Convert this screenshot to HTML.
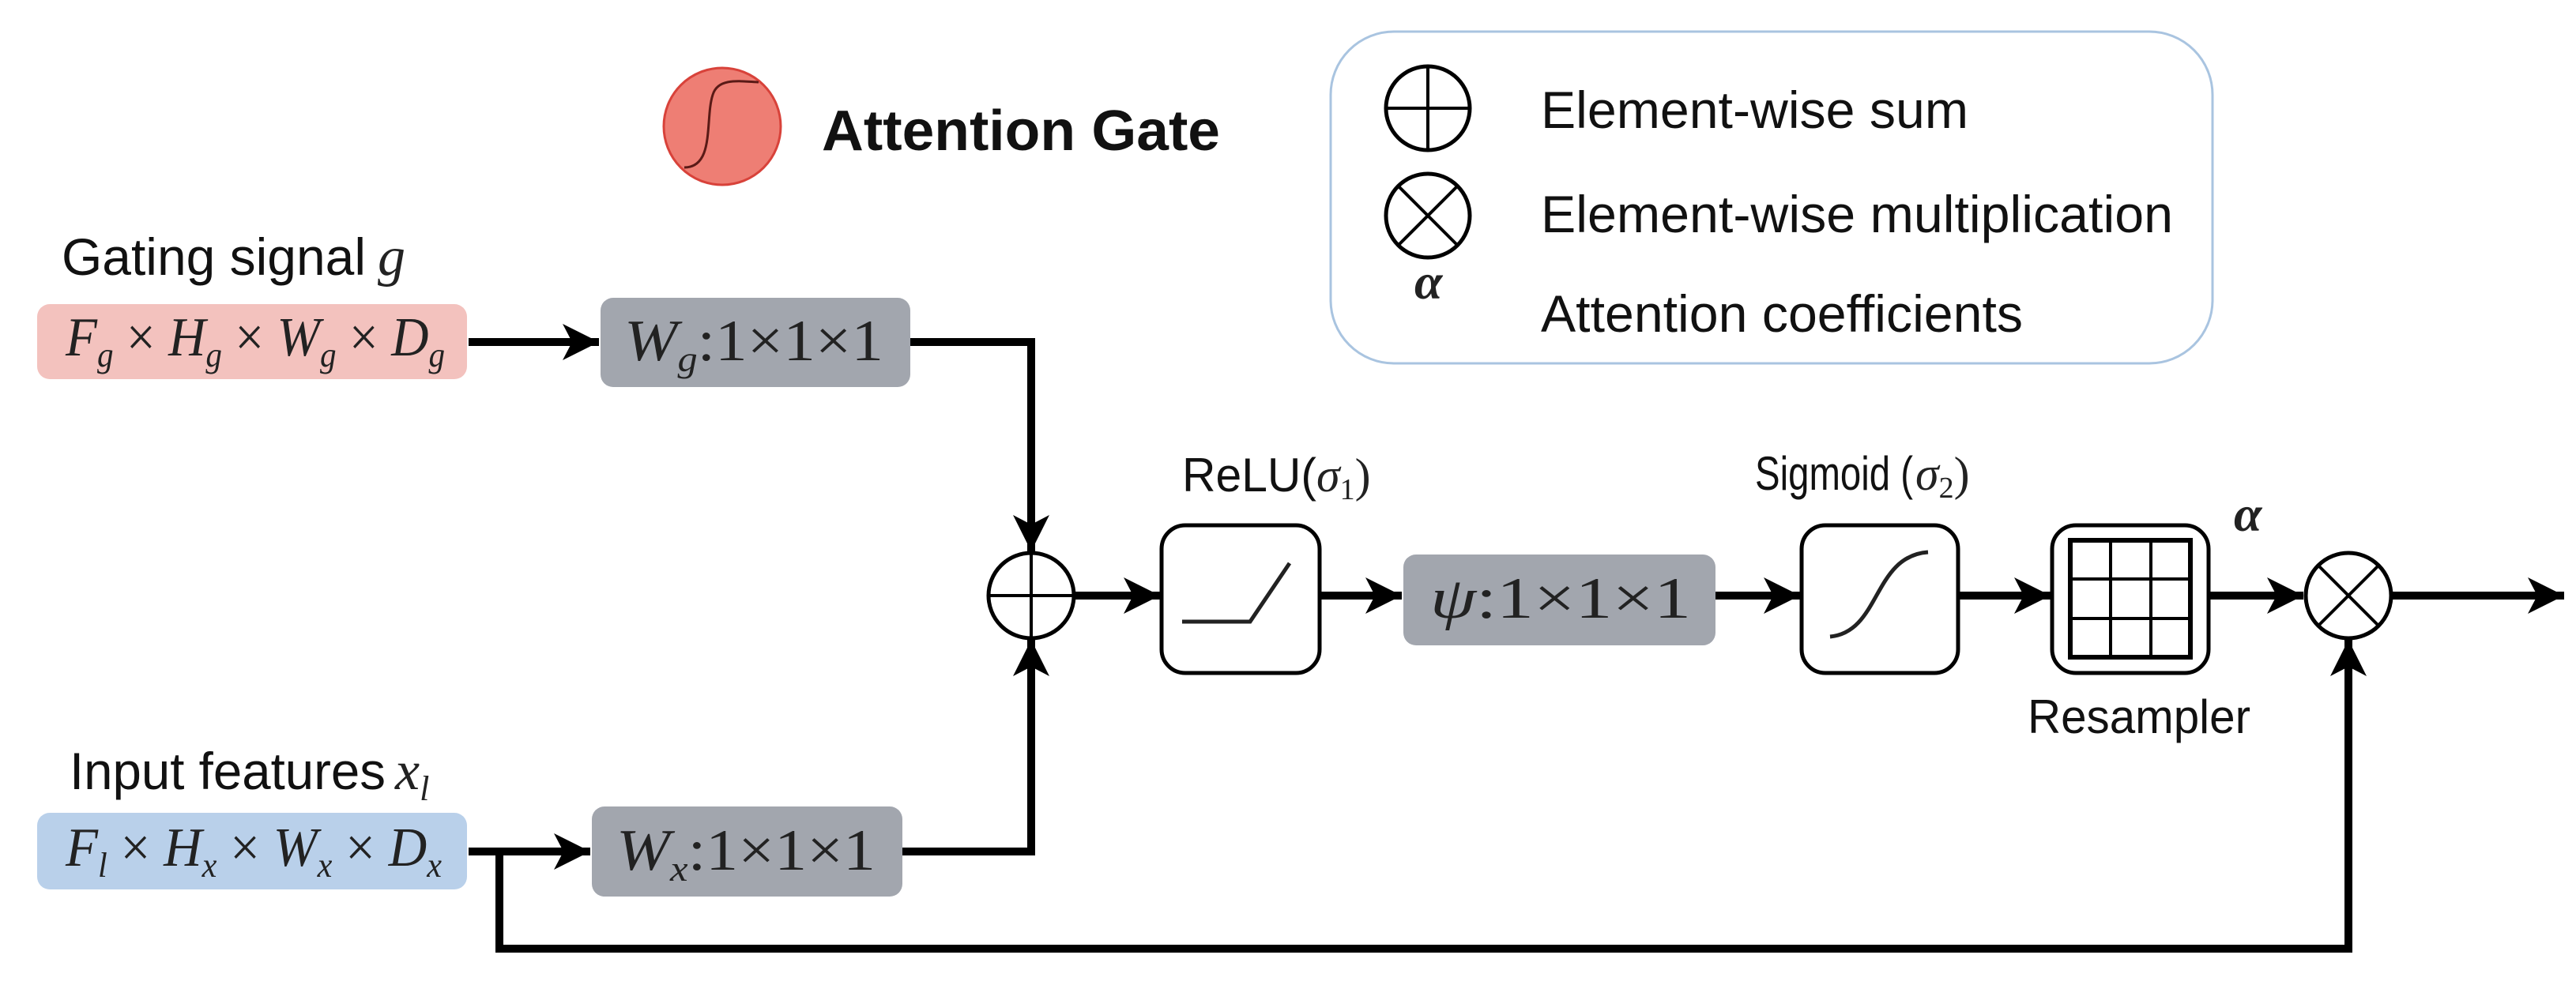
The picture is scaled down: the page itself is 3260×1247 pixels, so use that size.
<!DOCTYPE html>
<html><head><meta charset="utf-8"><style>
html,body{margin:0;padding:0;background:#fff;}
svg{display:block;}
.s{font-family:"Liberation Sans",Arial,sans-serif;fill:#111;}
.m{font-family:"Liberation Serif","Times New Roman",serif;fill:#222;}
</style></head><body>
<svg width="3260" height="1247" viewBox="0 0 3260 1247" xmlns="http://www.w3.org/2000/svg">
<defs>
<marker id="a" markerUnits="userSpaceOnUse" markerWidth="60" markerHeight="60" refX="48" refY="25" orient="auto">
<polygon points="48,25 2,2 14,25 2,48" fill="#000"/>
</marker>
</defs>
<!-- Attention gate icon -->
<ellipse cx="914" cy="160" rx="74" ry="74" fill="#ee7e74" stroke="#d8423a" stroke-width="3"/>
<path d="M866,212 C905,212 892,150 902,120 C908,100 930,102 960,104" fill="none" stroke="#5a1a16" stroke-width="3"/>
<text class="s" x="1040" y="190" font-size="72" font-weight="bold" textLength="504" lengthAdjust="spacingAndGlyphs">Attention Gate</text>

<!-- legend -->
<rect x="1684" y="40" width="1116" height="420" rx="80" fill="#fff" stroke="#a9c4e0" stroke-width="3"/>
<circle cx="1807" cy="137" r="53" fill="none" stroke="#000" stroke-width="5"/>
<line x1="1754" y1="137" x2="1860" y2="137" stroke="#000" stroke-width="4"/>
<line x1="1807" y1="84" x2="1807" y2="190" stroke="#000" stroke-width="4"/>
<circle cx="1807" cy="273" r="53" fill="none" stroke="#000" stroke-width="5"/>
<line x1="1770" y1="236" x2="1844" y2="310" stroke="#000" stroke-width="4"/>
<line x1="1844" y1="236" x2="1770" y2="310" stroke="#000" stroke-width="4"/>
<text class="m" x="1790" y="378" font-size="64" font-style="italic" font-weight="bold" fill="#111">α</text>
<text class="s" x="1950" y="162" font-size="66" textLength="541" lengthAdjust="spacingAndGlyphs">Element-wise sum</text>
<text class="s" x="1950" y="294" font-size="66" textLength="800" lengthAdjust="spacingAndGlyphs">Element-wise multiplication</text>
<text class="s" x="1950" y="420" font-size="66" textLength="610" lengthAdjust="spacingAndGlyphs">Attention coefficients</text>

<!-- gating -->
<text class="s" x="78" y="348" font-size="66" textLength="385" lengthAdjust="spacingAndGlyphs">Gating signal</text>
<text class="m" x="478" y="348" font-size="70" font-style="italic">g</text>
<rect x="47" y="385" width="544" height="95" rx="16" fill="#f3c2be"/>
<text class="m" x="83" y="450" font-size="70" font-style="italic" textLength="480" lengthAdjust="spacingAndGlyphs">F<tspan font-size="44" dy="14">g</tspan><tspan dy="-14" font-style="normal"> × </tspan>H<tspan font-size="44" dy="14">g</tspan><tspan dy="-14" font-style="normal"> × </tspan>W<tspan font-size="44" dy="14">g</tspan><tspan dy="-14" font-style="normal"> × </tspan>D<tspan font-size="44" dy="14">g</tspan></text>
<rect x="760" y="377" width="392" height="113" rx="16" fill="#a2a6ae"/>
<text class="m" x="790" y="456" font-size="74" textLength="328" lengthAdjust="spacingAndGlyphs"><tspan font-style="italic">W</tspan><tspan font-size="46" font-style="italic" dy="14">g</tspan><tspan dy="-14">:1×1×1</tspan></text>

<!-- input -->
<text class="s" x="88" y="999" font-size="66" textLength="400" lengthAdjust="spacingAndGlyphs">Input features</text>
<text class="m" x="500" y="999" font-size="70" font-style="italic">x<tspan font-size="44" dy="14">l</tspan></text>
<rect x="47" y="1029" width="544" height="97" rx="16" fill="#b9d0ea"/>
<text class="m" x="83" y="1096" font-size="70" font-style="italic" textLength="476" lengthAdjust="spacingAndGlyphs">F<tspan font-size="44" dy="14">l</tspan><tspan dy="-14" font-style="normal"> × </tspan>H<tspan font-size="44" dy="14">x</tspan><tspan dy="-14" font-style="normal"> × </tspan>W<tspan font-size="44" dy="14">x</tspan><tspan dy="-14" font-style="normal"> × </tspan>D<tspan font-size="44" dy="14">x</tspan></text>
<rect x="749" y="1021" width="393" height="114" rx="16" fill="#a2a6ae"/>
<text class="m" x="780" y="1101" font-size="74" textLength="328" lengthAdjust="spacingAndGlyphs"><tspan font-style="italic">W</tspan><tspan font-size="46" font-style="italic" dy="14">x</tspan><tspan dy="-14">:1×1×1</tspan></text>

<!-- connectors -->
<g fill="none" stroke="#000" stroke-width="10">
<line x1="593" y1="433" x2="758" y2="433" marker-end="url(#a)"/>
<polyline points="1152,433 1305,433 1305,698" marker-end="url(#a)"/>
<polyline points="1142,1078 1305,1078 1305,810" marker-end="url(#a)"/>
<line x1="593" y1="1078" x2="747" y2="1078" marker-end="url(#a)"/>
<polyline points="632,1078 632,1201 2972,1201 2972,810" marker-end="url(#a)"/>
<line x1="1360" y1="754" x2="1468" y2="754" marker-end="url(#a)"/>
<line x1="1670" y1="754" x2="1774" y2="754" marker-end="url(#a)"/>
<line x1="2171" y1="754" x2="2278" y2="754" marker-end="url(#a)"/>
<line x1="2478" y1="754" x2="2595" y2="754" marker-end="url(#a)"/>
<line x1="2795" y1="754" x2="2915" y2="754" marker-end="url(#a)"/>
<line x1="3027" y1="754" x2="3245" y2="754" marker-end="url(#a)"/>
</g>

<!-- sum -->
<circle cx="1305" cy="754" r="54" fill="#fff" stroke="#000" stroke-width="5"/>
<line x1="1251" y1="754" x2="1359" y2="754" stroke="#000" stroke-width="4"/>
<line x1="1305" y1="700" x2="1305" y2="808" stroke="#000" stroke-width="4"/>

<!-- ReLU -->
<text class="s" x="1496" y="622" font-size="60" textLength="170" lengthAdjust="spacingAndGlyphs">ReLU(</text>
<text class="m" x="1666" y="622" font-size="60" font-style="italic">σ<tspan font-size="38" font-style="normal" dy="10">1</tspan><tspan dy="-10" font-style="normal" font-size="60">)</tspan></text>
<rect x="1470" y="665" width="200" height="187" rx="30" fill="#fff" stroke="#000" stroke-width="5"/>
<polyline points="1496,787 1582,787 1632,713" fill="none" stroke="#222" stroke-width="5"/>

<!-- psi -->
<rect x="1776" y="702" width="395" height="115" rx="16" fill="#a2a6ae"/>
<text class="m" x="1810" y="782" font-size="74" textLength="330" lengthAdjust="spacingAndGlyphs"><tspan font-style="italic">ψ</tspan>:1×1×1</text>

<!-- Sigmoid -->
<text class="s" x="2221" y="620" font-size="60" textLength="200" lengthAdjust="spacingAndGlyphs">Sigmoid (</text>
<text class="m" x="2424" y="620" font-size="60" font-style="italic">σ<tspan font-size="38" font-style="normal" dy="10">2</tspan><tspan dy="-10" font-style="normal" font-size="60">)</tspan></text>
<rect x="2280" y="665" width="198" height="187" rx="30" fill="#fff" stroke="#000" stroke-width="5"/>
<path d="M2316,806 C2380,800 2370,704 2440,699" fill="none" stroke="#222" stroke-width="5"/>

<!-- Resampler -->
<rect x="2597" y="665" width="198" height="187" rx="30" fill="#fff" stroke="#000" stroke-width="5"/>
<rect x="2620" y="684" width="152" height="148" fill="none" stroke="#000" stroke-width="6"/>
<g stroke="#000" stroke-width="4">
<line x1="2671" y1="684" x2="2671" y2="832"/><line x1="2722" y1="684" x2="2722" y2="832"/>
<line x1="2620" y1="733" x2="2772" y2="733"/><line x1="2620" y1="783" x2="2772" y2="783"/>
</g>
<text class="s" x="2566" y="928" font-size="60" textLength="282" lengthAdjust="spacingAndGlyphs">Resampler</text>
<text class="m" x="2827" y="672" font-size="64" font-style="italic" font-weight="bold" fill="#111">α</text>

<!-- multiply -->
<circle cx="2972" cy="754" r="54" fill="#fff" stroke="#000" stroke-width="5"/>
<line x1="2934" y1="716" x2="3010" y2="792" stroke="#000" stroke-width="4"/>
<line x1="3010" y1="716" x2="2934" y2="792" stroke="#000" stroke-width="4"/>
</svg>
</body></html>
